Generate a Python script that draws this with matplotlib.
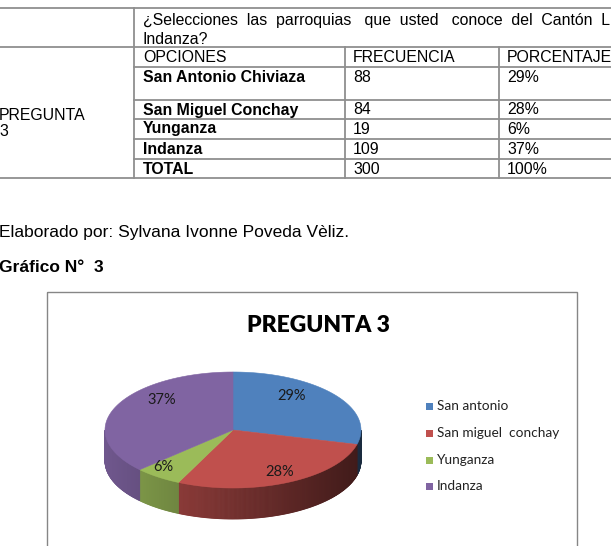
import numpy as np
import matplotlib
matplotlib.use("Agg")
import matplotlib.pyplot as plt
from matplotlib.patches import Polygon, Rectangle
from matplotlib.colors import to_rgb

# ---------------- data ----------------
question_line1 = "¿Selecciones  las  parroquias   que  usted   conoce  del  Cantón  Limón"
question_line2 = "Indanza?"
header = ["OPCIONES", "FRECUENCIA", "PORCENTAJE"]
options = ["San Antonio Chiviaza", "San Miguel Conchay", "Yunganza", "Indanza", "TOTAL"]
frequencies = [88, 84, 19, 109, 300]
percentages = ["29%", "28%", "6%", "37%", "100%"]
row_label = ["PREGUNTA", "3"]
source_text = "Elaborado por: Sylvana Ivonne Poveda Vèliz."
figure_caption = "Gráfico N°  3"

chart_title = "PREGUNTA 3"
legend_labels = ["San antonio", "San miguel  conchay", "Yunganza", "Indanza"]
pie_values = [29, 28, 6, 37]
pie_labels = ["29%", "28%", "6%", "37%"]

# ---------------- style ----------------
colors = ["#4F81BD", "#C0504D", "#9BBB59", "#8064A2"]
label_r = [(0.58, 0.97), (0.86, 0.80), (0.93, 0.79), (0.61, 1.30)]
TABLE_FONT = "Liberation Sans"
CHART_FONT = "Lato"
line_col = "#8f8f8f"

fig = plt.figure(figsize=(6.11, 5.46), dpi=100)
ax = fig.add_axes([0, 0, 1, 1])
ax.set_xlim(0, 611)
ax.set_ylim(546, 0)
ax.axis("off")

# ---------------- table ----------------
col_x = [134, 345, 499]
row_y = [8, 47, 67, 100, 119, 139, 159, 178]
lw = 1.3
for y in (row_y[0], row_y[1], row_y[-1]):
    ax.plot([-5, 616], [y, y], color=line_col, lw=lw)
for y in row_y[2:-1]:
    ax.plot([col_x[0], 616], [y, y], color=line_col, lw=lw)
ax.plot([col_x[0], col_x[0]], [row_y[0], row_y[-1]], color=line_col, lw=lw)
for x in col_x[1:]:
    ax.plot([x, x], [row_y[1], row_y[-1]], color=line_col, lw=lw)

fs = 11.4
ax.text(143, 20, question_line1, fontsize=fs, family=TABLE_FONT, va="center", ha="left")
ax.text(143, 39, question_line2, fontsize=fs, family=TABLE_FONT, va="center", ha="left")
text_x = [143, 353, 507]
for j, h in enumerate(header):
    ax.text(text_x[j], row_y[1] + 10.5, h, fontsize=fs, family=TABLE_FONT, va="center")
for i, (o, f, p) in enumerate(zip(options, frequencies, percentages)):
    yt = row_y[2 + i] + 10
    ax.text(text_x[0], yt, o, fontsize=fs, family=TABLE_FONT, weight="bold", va="center")
    ax.text(text_x[1], yt, str(f), fontsize=fs, family=TABLE_FONT, va="center")
    ax.text(text_x[2], yt, p, fontsize=fs, family=TABLE_FONT, va="center")
ax.text(-1, 115, row_label[0], fontsize=fs, family=TABLE_FONT, va="center", ha="left")
ax.text(-1, 132, row_label[1], fontsize=fs, family=TABLE_FONT, va="center", ha="left")

ax.text(-1, 233, source_text, fontsize=12.5, family=TABLE_FONT, va="center", ha="left")
ax.text(-1, 267, figure_caption, fontsize=12.5, family=TABLE_FONT, weight="bold",
        va="center", ha="left")

# ---------------- chart frame ----------------
ax.add_patch(Rectangle((47, 292), 530, 270, fill=False, edgecolor="#868686", lw=1.0))
ax.text(318, 326, chart_title, fontsize=16.5, family=CHART_FONT, weight="heavy",
        ha="center", va="center")

# ---------------- 3D pie ----------------
cx, cy, a, b, depth = 233, 430, 128, 58, 31
vals = np.array(pie_values, dtype=float)
bounds = np.concatenate([[0], np.cumsum(vals) / vals.sum() * 360.0])


def rim(theta_deg):
    t = np.radians(theta_deg)
    return cx + a * np.sin(t), cy - b * np.cos(t)


def shade(theta_deg):
    t = np.radians(theta_deg)
    return 0.60 - 0.27 * np.sin(t)


# sides (front half: 90..270 degrees clockwise from top)
for k in range(len(vals)):
    t0, t1 = max(bounds[k], 90), min(bounds[k + 1], 270)
    if t1 <= t0:
        continue
    n = max(int((t1 - t0) / 0.5), 1)
    ts = np.linspace(t0, t1, n + 1)
    base = np.array(to_rgb(colors[k]))
    for i in range(n):
        x0, y0 = rim(ts[i])
        x1, y1 = rim(ts[i + 1])
        c = np.clip(base * shade((ts[i] + ts[i + 1]) / 2), 0, 1)
        ax.add_patch(Polygon([(x0, y0), (x1, y1), (x1, y1 + depth), (x0, y0 + depth)],
                             closed=True, facecolor=c, edgecolor=c, lw=0.6))

# top faces
for k in range(len(vals)):
    ts = np.linspace(bounds[k], bounds[k + 1], 200)
    pts = [(cx, cy)] + [rim(t) for t in ts]
    ax.add_patch(Polygon(pts, closed=True, facecolor=colors[k], edgecolor=colors[k], lw=0.4))

# labels
for k in range(len(vals)):
    mid = np.radians((bounds[k] + bounds[k + 1]) / 2)
    rx, ry = label_r[k]
    lx = cx + a * rx * np.sin(mid)
    ly = cy - b * ry * np.cos(mid)
    ax.text(lx, ly, pie_labels[k], fontsize=10.5, family=CHART_FONT, color="#1a1a1a",
            ha="center", va="center")

# legend
leg_y = [406, 433, 460, 486]
for k, lab in enumerate(legend_labels):
    ax.add_patch(Rectangle((426, leg_y[k] - 3.5), 7, 7, facecolor=colors[k], edgecolor="none"))
    ax.text(437, leg_y[k], lab, fontsize=9.8, family=CHART_FONT, color="#222222",
            ha="left", va="center")

fig.savefig("out.png", dpi=100)
